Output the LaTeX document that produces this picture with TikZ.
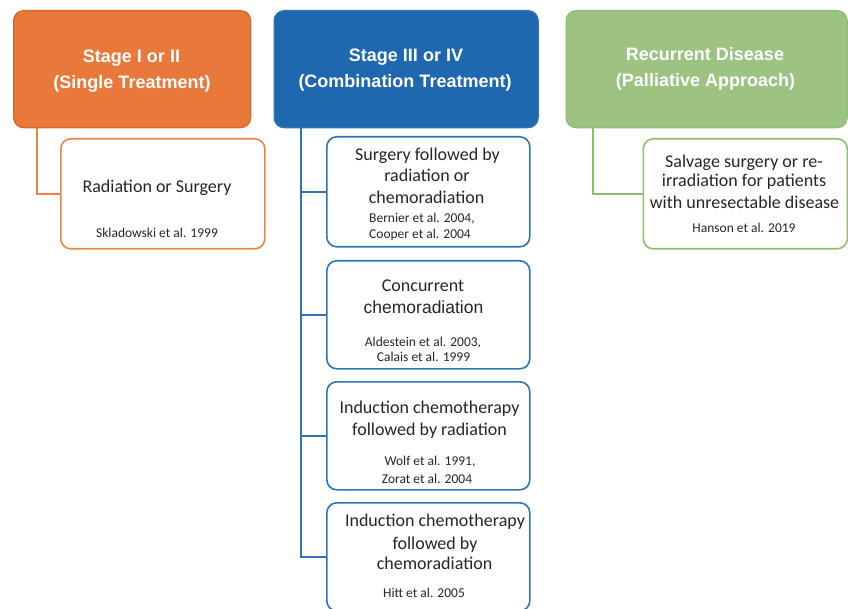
\documentclass[tikz,border=0pt]{standalone}
\usepackage{fontspec}
\setmainfont{Carlito}
\newfontfamily\hdrfont{Liberation Sans}
\newfontfamily\arialfont{Liberation Sans}
\definecolor{orgF}{HTML}{E8793A}
\definecolor{orgD}{HTML}{D66A2C}
\definecolor{orgL}{HTML}{EC8548}
\definecolor{bluF}{HTML}{1F67AE}
\definecolor{bluD}{HTML}{2E75B6}
\definecolor{grnF}{HTML}{9DC383}
\definecolor{grnD}{HTML}{8DBF6E}
\definecolor{txt}{HTML}{262626}
\begin{document}
\begin{tikzpicture}[x=1pt,y=-1pt,
  bx/.style={rectangle, rounded corners=10pt, anchor=north west, inner sep=0pt},
  hdr/.style={bx, line width=1.3pt},
  kid/.style={bx, fill=white, line width=1.6pt},
  conn/.style={line width=1.6pt},
  htxt/.style={anchor=base, inner sep=0pt, text=white, font=\hdrfont\bfseries\fontsize{18}{22}\selectfont},
  ktxt/.style={anchor=base, inner sep=0pt, text=txt, font=\fontsize{18}{21}\selectfont},
  ctxt/.style={anchor=base, inner sep=0pt, text=txt, font=\fontsize{13.5}{16}\selectfont},
]
\useasboundingbox (0,0) rectangle (848,609);

% header boxes
\node[hdr, fill=orgF, draw=orgD, minimum width=237pt, minimum height=117pt] (h1) at (13,10) {};
\node[hdr, fill=bluF, draw=bluD, minimum width=264pt, minimum height=117pt] (h2) at (273.5,10) {};
\node[hdr, fill=grnF, draw=grnD, minimum width=281pt, minimum height=117pt] (h3) at (565.5,10) {};

% child boxes
\node[kid, draw=orgL, minimum width=204pt, minimum height=110pt] (k1) at (60,138) {};
\node[kid, draw=grnD, minimum width=204pt, minimum height=110pt] (k3) at (642.5,138) {};
\node[kid, draw=bluD, minimum width=203pt, minimum height=110pt] (b1) at (326,136) {};
\node[kid, draw=bluD, minimum width=203pt, minimum height=108pt] (b2) at (326,260) {};
\node[kid, draw=bluD, minimum width=203pt, minimum height=108pt] (b3) at (326,381) {};
\node[kid, draw=bluD, minimum width=203pt, minimum height=108pt] (b4) at (326,502) {};

% connectors
\draw[conn, draw=orgL] ([xshift=24pt]h1.south west) |- (k1.west);
\draw[conn, draw=grnD] ([xshift=27.5pt]h3.south west) |- (k3.west);
\coordinate (spine) at ([xshift=27.5pt]h2.south west);
\draw[conn, draw=bluD] (spine) |- (b4.west);
\draw[conn, draw=bluD] (b1.west) -- (b1.west -| spine);
\draw[conn, draw=bluD] (b2.west) -- (b2.west -| spine);
\draw[conn, draw=bluD] (b3.west) -- (b3.west -| spine);

% header texts
\node[htxt] (t11) at (131.5,63) {Stage I or II};
\node[htxt] (t12) at (132,89) {(Single Treatment)};
\node[htxt] (t21) at (406,62) {Stage III or IV};
\node[htxt] (t22) at (405,88) {(Combination Treatment)};
\node[htxt] (t31) at (705,61) {Recurrent Disease};
\node[htxt] (t32) at (705.5,87) {(Palliative Approach)};

% stage I/II child
\node[ktxt] (k1a) at (157,193) {Radiation or Surgery};
\node[ctxt] (k1c) at (157,238) {Skladowski et al. 1999};

% recurrent child
\node[ktxt] (k3a) at (744,168) {Salvage surgery or re-};
\node[ktxt] (k3b) at (744,187) {irradiation for patients};
\node[ktxt] (k3d) at (744.5,209) {with unresectable disease};
\node[ctxt] (k3c) at (744,233) {Hanson et al. 2019};

% box 1
\node[ktxt] (b1a) at (427.5,161) {Surgery followed by};
\node[ktxt] (b1b) at (427,182) {radiation or};
\node[ktxt] (b1d) at (426.5,204) {chemoradiation};
\node[ctxt, anchor=base west] (b1c) at (369,223) {Bernier et al. 2004,};
\node[ctxt, anchor=base west] (b1e) at (369,239) {Cooper et al. 2004};

% box 2
\node[ktxt] (b2a) at (423,292) {Concurrent};
\node[ktxt] (b2b) at (423.5,313) {\arialfont\fontsize{17.5}{21}\selectfont chemoradiation};
\node[ctxt] (b2c) at (423,346) {Aldestein et al. 2003,};
\node[ctxt] (b2d) at (423.5,361) {Calais et al. 1999};

% box 3
\node[ktxt] (b3a) at (429.5,413) {Induction chemotherapy};
\node[ktxt] (b3b) at (429.5,435) {followed by radiation};
\node[ctxt] (b3c) at (430,465) {Wolf et al. 1991,};
\node[ctxt] (b3d) at (427,483) {Zorat et al. 2004};

% box 4
\node[ktxt] (b4a) at (435,526) {Induction chemotherapy};
\node[ktxt] (b4b) at (435,549) {followed by};
\node[ktxt] (b4d) at (434.5,569) {chemoradiation};
\node[ctxt] (b4c) at (424,597) {Hitt et al. 2005};
\end{tikzpicture}
\end{document}
